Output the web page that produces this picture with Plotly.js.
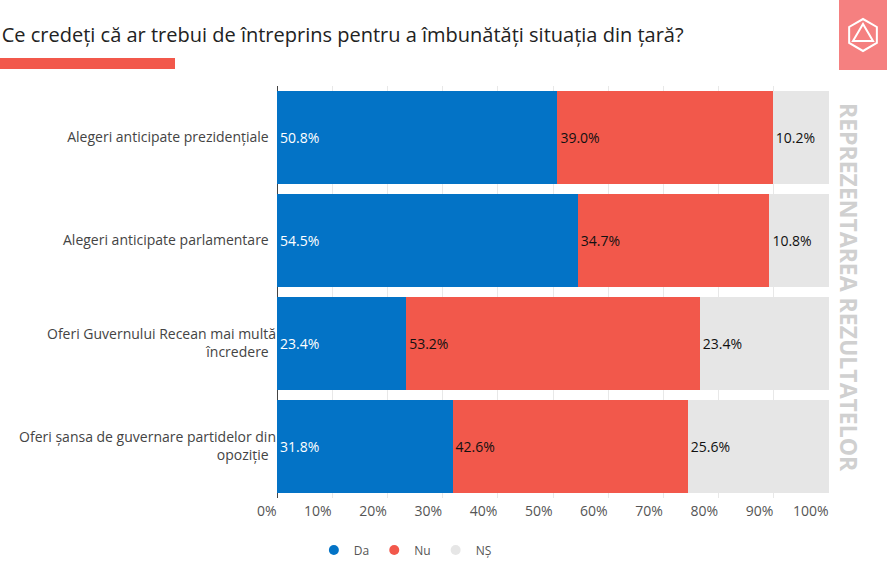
<!DOCTYPE html><html><head><meta charset="utf-8"><script src="https://cdn.plot.ly/plotly-3.0.1.min.js"></script>
<style>body{margin:0}</style></head><body><div id="c" style="width:887px;height:567px"></div>
<script>
const categories=["Alegeri anticipate prezidențiale","Alegeri anticipate parlamentare","Oferi Guvernului Recean mai multă<br>încredere","Oferi șansa de guvernare partidelor din<br>opoziție"];
const seriesNames=["Da","Nu","NȘ"];
const da=[50.8,54.5,23.4,31.8];
const nu=[39.0,34.7,53.2,42.6];
const ns=[10.2,10.8,23.4,25.6];
const tickVals=[0,10,20,30,40,50,60,70,80,90,100];
const tickText=tickVals.map(v=>v+"%");
const colors=["#0373c6","#f2584b","#e6e6e6"];
function tr(name,vals,color,tc){return {type:'bar',orientation:'h',name:name,y:categories,x:vals,marker:{color:color},showlegend:false,
text:vals.map(v=>v.toFixed(1)+"%"),textposition:'inside',insidetextanchor:'start',textfont:{color:tc,size:14,family:'Open Sans'},hoverinfo:'none'};}
const data=[tr(seriesNames[0],da,colors[0],"#fff"),tr(seriesNames[1],nu,colors[1],"#111"),tr(seriesNames[2],ns,colors[2],"#111")];
seriesNames.forEach((n,i)=>data.push({type:'scatter',mode:'markers',x:[null],y:[null],name:n,marker:{color:colors[i],size:10,symbol:'circle'},hoverinfo:'none'}));
const L=277,W=552,T=86,H=412;
const px=x=>(x-L)/W, py=y=>1-(y-T)/H;
const cx=863,cy=35,r=16;
let hex="";for(let k=0;k<6;k++){const a=Math.PI/6+k*Math.PI/3;hex+=(k?"L":"M")+(px(cx+r*Math.cos(a))).toFixed(4)+","+(py(cy+r*Math.sin(a))).toFixed(4);}hex+="Z";
const tri="M"+px(cx-10)+","+py(cy+6)+"L"+px(cx+10)+","+py(cy+6)+"L"+px(cx)+","+py(cy-11)+"Z";
const layout={barmode:'stack',bargap:0.1,margin:{l:L,r:58,t:T,b:69,autoexpand:false},paper_bgcolor:'#fff',plot_bgcolor:'#fff',
font:{family:'Open Sans',size:14,color:'#444'},
xaxis:{range:[0,100],tickvals:tickVals,ticktext:tickText,ticklabelposition:'outside left',ticks:'outside',ticklen:12,tickcolor:'rgba(0,0,0,0)',showgrid:true,gridcolor:'#e8e8e8',zeroline:true,zerolinecolor:'#444',zerolinewidth:1,fixedrange:true,tickfont:{size:14,color:'#555'},automargin:false},
yaxis:{autorange:'reversed',ticksuffix:'  ',tickfont:{size:14,color:'#444'},automargin:false},
showlegend:true,legend:{orientation:'h',traceorder:'normal',xref:'container',yref:'container',x:0.457,xanchor:'center',y:0.03,yanchor:'middle',font:{size:12,color:'#555'},itemwidth:30},
title:{text:"Ce credeți că ar trebui de întreprins pentru a îmbunătăți situația din țară?",x:0.002,xanchor:'left',y:0.95,font:{size:20,color:'#222',family:'Open Sans'}},
shapes:[{type:'rect',xref:'paper',yref:'paper',x0:px(0),x1:px(175),y0:py(58),y1:py(69),fillcolor:'#f2584b',line:{width:0}},
{type:'rect',xref:'paper',yref:'paper',x0:px(839),x1:px(887),y0:py(0),y1:py(70),fillcolor:'#f58080',line:{width:0}},
{type:'path',xref:'paper',yref:'paper',path:hex,line:{color:'#fff',width:2}},
{type:'path',xref:'paper',yref:'paper',path:tri,line:{color:'#fff',width:2}}],
annotations:[{xref:'paper',yref:'paper',x:px(867),y:py(287),text:"<b>REPREZENTAREA REZULTATELOR</b>",textangle:90,showarrow:false,font:{size:23,color:'#d0d0d0',family:'Open Sans'}}]};
Plotly.newPlot('c',data,layout,{displayModeBar:false});
</script></body></html>
